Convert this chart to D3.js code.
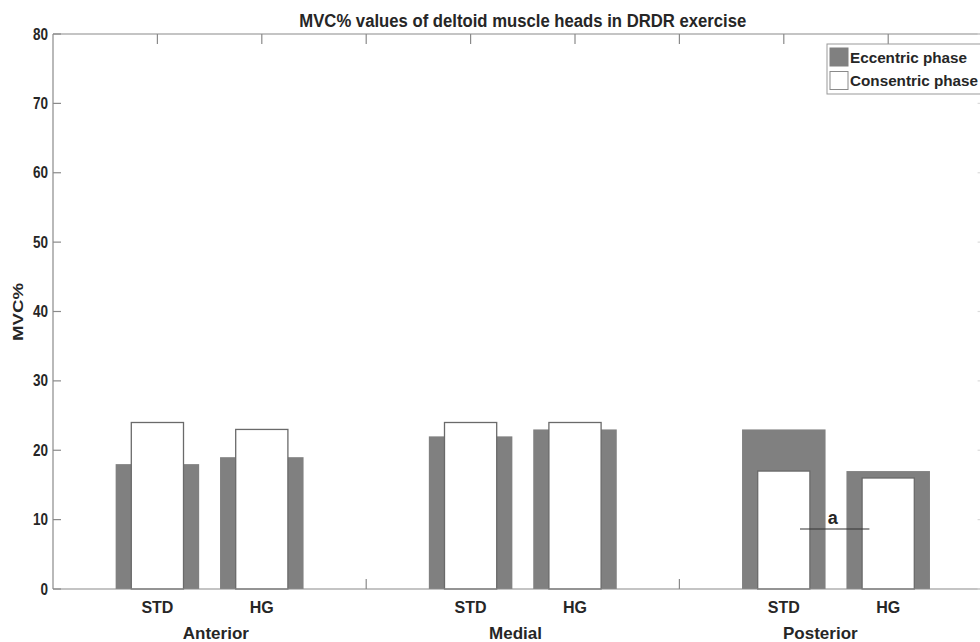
<!DOCTYPE html>
<html>
<head>
<meta charset="utf-8">
<script src="https://cdn.jsdelivr.net/npm/d3@7"></script>
<style>
  body { margin: 0; background: #fff; }
  svg text { font-family: "Liberation Sans", Arial, sans-serif; font-weight: bold; fill: #262626; }
</style>
</head>
<body>
<div id="chart"></div>
<script>
// 数据
const groups = ["Anterior", "Medial", "Posterior"];
const barPositions = [1, 2, 4, 5, 7, 8];
const eccentric = [18, 19, 22, 23, 23, 17];
const concentric = [24, 23, 24, 24, 17, 16];
const yTicks = [0, 10, 20, 30, 40, 50, 60, 70, 80];
const xTicks = [1, 2, 3, 4, 5, 6, 7, 8];
const xTickLabels = ["STD", "HG", "", "STD", "HG", "", "STD", "HG"];
const groupLabelPos = [1.56, 4.43, 7.35];
const legendLabels = ["Eccentric phase", "Consentric phase"];
// 显著性标注 a
const sigLine = { x1: 7.155, x2: 7.82, y: 8.65, label: "a", labelX: 7.47 };

const W = 980, H = 642;
const axisColor = "#8a8a8a";
const grayFill = "#808080";

const svg = d3.select("#chart").append("svg")
    .attr("width", W)
    .attr("height", H);

// 比例尺
const x = d3.scaleLinear().domain([0, 9]).range([53, 992.6]);
const y = d3.scaleLinear().domain([0, 80]).range([589, 34]);

const x0 = x.range()[0], x1 = x.range()[1];
const yb = y(0), yt = y(80);

// x轴刻度（上下，朝内）—— 先画，底部刻度会被柱子遮住
xTicks.forEach(t => {
    svg.append("line").attr("x1", x(t)).attr("x2", x(t)).attr("y1", yt).attr("y2", yt + 10)
        .attr("stroke", axisColor).attr("stroke-width", 1.2);
    svg.append("line").attr("x1", x(t)).attr("x2", x(t)).attr("y1", yb).attr("y2", yb - 10)
        .attr("stroke", axisColor).attr("stroke-width", 1.2);
});

// 偏心期灰色宽柱
svg.append("g").selectAll("rect")
    .data(eccentric)
    .enter()
    .append("rect")
    .attr("x", (d, i) => x(barPositions[i] - 0.4))
    .attr("width", x(0.8) - x(0))
    .attr("y", d => y(d))
    .attr("height", d => y(0) - y(d))
    .attr("fill", grayFill);

// 向心期白色窄柱
svg.append("g").selectAll("rect")
    .data(concentric)
    .enter()
    .append("rect")
    .attr("x", (d, i) => x(barPositions[i] - 0.25))
    .attr("width", x(0.5) - x(0))
    .attr("y", d => y(d))
    .attr("height", d => y(0) - y(d))
    .attr("fill", "#fff")
    .attr("stroke", "#6a6a6a")
    .attr("stroke-width", 1.3);

// 坐标框
[[x0, x1, yt, yt], [x0, x1, yb, yb], [x0, x0, yt, yb], [x1, x1, yt, yb]].forEach(([a, b, c, d]) => {
    svg.append("line").attr("x1", a).attr("x2", b).attr("y1", c).attr("y2", d)
        .attr("stroke", axisColor).attr("stroke-width", 1.2);
});

// y轴刻度
yTicks.forEach(t => {
    svg.append("line").attr("x1", x0).attr("x2", x0 + 8).attr("y1", y(t)).attr("y2", y(t))
        .attr("stroke", axisColor).attr("stroke-width", 1.2);
    svg.append("line").attr("x1", x1).attr("x2", x1 - 15).attr("y1", y(t)).attr("y2", y(t))
        .attr("stroke", "#dcdcdc").attr("stroke-width", 1.2);
    svg.append("text")
        .attr("x", x0 - 5)
        .attr("y", y(t))
        .attr("text-anchor", "end")
        .attr("dominant-baseline", "central")
        .attr("font-size", "16px")
        .attr("textLength", String(t).length * 7.5)
        .attr("lengthAdjust", "spacingAndGlyphs")
        .text(t);
});

// x轴标签
xTicks.forEach((t, i) => {
    if (!xTickLabels[i]) return;
    svg.append("text")
        .attr("x", x(t))
        .attr("y", 613)
        .attr("text-anchor", "middle")
        .attr("font-size", "16px")
        .text(xTickLabels[i]);
});

// 分组标签
groups.forEach((g, i) => {
    svg.append("text")
        .attr("x", x(groupLabelPos[i]))
        .attr("y", 639)
        .attr("text-anchor", "middle")
        .attr("font-size", "17px")
        .text(g);
});

// y轴标题
svg.append("text")
    .attr("transform", `translate(23, 312) rotate(-90)`)
    .attr("text-anchor", "middle")
    .attr("font-size", "15px")
    .attr("textLength", 58)
    .attr("lengthAdjust", "spacingAndGlyphs")
    .text("MVC%");

// 图表标题
svg.append("text")
    .attr("x", (x0 + x1) / 2)
    .attr("y", 27)
    .attr("text-anchor", "middle")
    .attr("font-size", "18px")
    .attr("textLength", 447)
    .attr("lengthAdjust", "spacingAndGlyphs")
    .text("MVC% values of deltoid muscle heads in DRDR exercise");

// 显著性标注
svg.append("line")
    .attr("x1", x(sigLine.x1)).attr("x2", x(sigLine.x2))
    .attr("y1", y(sigLine.y)).attr("y2", y(sigLine.y))
    .attr("stroke", "#333").attr("stroke-width", 1.2);
svg.append("text")
    .attr("x", x(sigLine.labelX))
    .attr("y", y(sigLine.y) - 5)
    .attr("text-anchor", "middle")
    .attr("font-size", "18px")
    .text(sigLine.label);

// 图例
const legendWidths = [117, 128];
const legend = svg.append("g").attr("transform", "translate(827, 44)");
legend.append("rect")
    .attr("x", 0).attr("y", 0)
    .attr("width", 200).attr("height", 50)
    .attr("fill", "#fff")
    .attr("stroke", "#999")
    .attr("stroke-width", 1);
legendLabels.forEach((lab, i) => {
    legend.append("rect")
        .attr("x", 3)
        .attr("y", 4 + i * 23.5)
        .attr("width", 18)
        .attr("height", 18)
        .attr("fill", i === 0 ? grayFill : "#fff")
        .attr("stroke", i === 0 ? grayFill : "#8a8a8a")
        .attr("stroke-width", 1);
    legend.append("text")
        .attr("x", 23)
        .attr("y", 13 + i * 23.5)
        .attr("dominant-baseline", "central")
        .attr("font-size", "15px")
        .attr("textLength", legendWidths[i])
        .attr("lengthAdjust", "spacingAndGlyphs")
        .text(lab);
});
</script>
</body>
</html>
